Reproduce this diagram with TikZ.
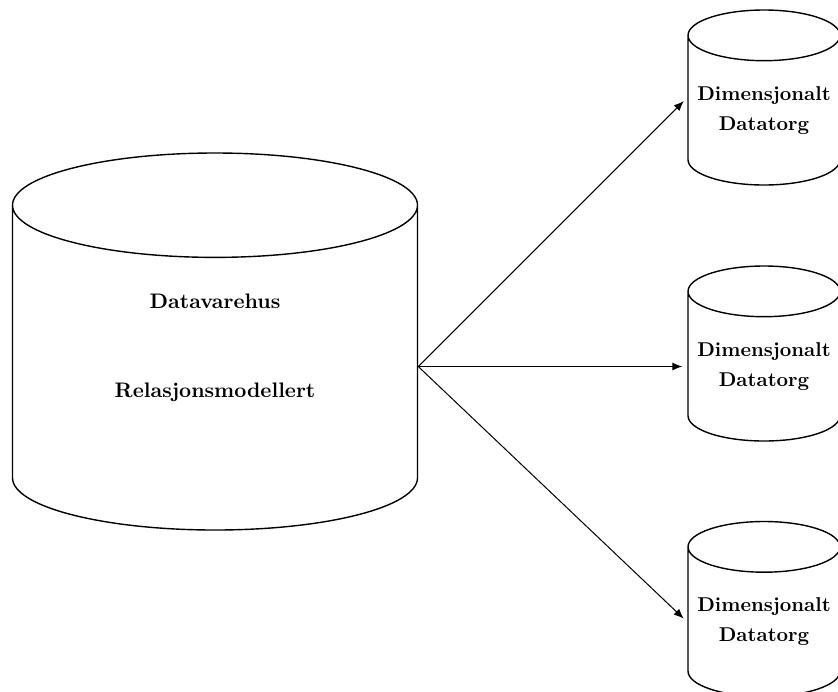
\documentclass[tikz,border=0pt]{standalone}
\usetikzlibrary{shapes.geometric,arrows.meta}

\tikzset{
  db/.style={cylinder, shape border rotate=90, draw, line width=0.7pt,
    align=center, font=\bfseries, inner sep=0pt},
  dwhdb/.style={db, minimum width=202.5pt, minimum height=188.5pt, aspect=0.52,
    text depth=22pt, font=\fontsize{10.5}{12.6}\selectfont\bfseries},
  martdb/.style={db, minimum width=76pt, minimum height=87.5pt, aspect=0.38},
  flow/.style={-{Latex[length=5pt,width=4pt]}, line width=0.5pt, shorten >=2.5pt}
}

\begin{document}
\begin{tikzpicture}[x=0.5pt,y=-0.5pt]
    % Page frame, in pixels of the reference
    \useasboundingbox (0,0) rectangle (838,691);

    % The data warehouse
    \node[dwhdb, anchor=shape center] (dwh) at (215,341.5)
        {Datavarehus\\[32pt]Relasjonsmodellert};

    % The three data marts
    \node[martdb, anchor=shape center] (mart1) at (764,97.5) {Dimensjonalt\\[3pt]Datatorg};
    \node[martdb, anchor=shape center] (mart2) at (764,353.5) {Dimensjonalt\\[3pt]Datatorg};
    \node[martdb, anchor=shape center] (mart3) at (764,609) {Dimensjonalt\\[3pt]Datatorg};

    % Arrows out of the warehouse
    \coordinate (fork) at (dwh.east |- mart2.west);
    \draw[flow] (fork) -- (mart1.west |- mart1.shape center);
    \draw[flow] (fork) -- (mart2.west);
    \draw[flow] (fork) -- (mart3.west);
\end{tikzpicture}
\end{document}
